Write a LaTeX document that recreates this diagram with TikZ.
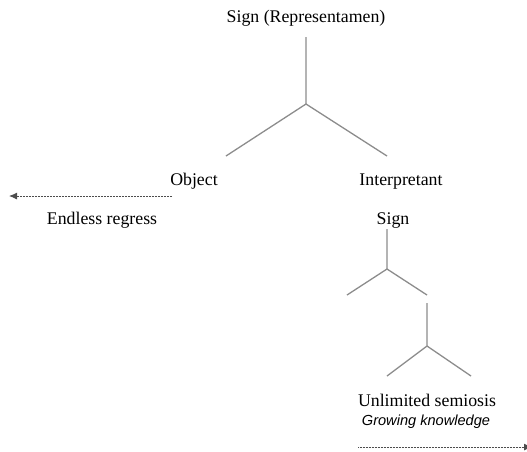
\documentclass[tikz,border=0pt]{standalone}
\usepackage{fontspec}
\setmainfont{Liberation Serif}
\newfontfamily\arialfont{Liberation Sans}
\usetikzlibrary{arrows.meta}
\begin{document}
\begin{tikzpicture}[x=1pt,y=-1pt,
  lbl/.style={font=\fontsize{17.8}{20}\selectfont, inner sep=0pt, anchor=base},
  itl/.style={font=\arialfont\itshape\fontsize{14.6}{17}\selectfont, inner sep=0pt, anchor=base},
  stem/.style={draw=black!45, line width=1.3pt},
  dots/.style={draw=black!70, line width=0.9pt, dash pattern=on 0.9pt off 0.6pt,
               -{Latex[length=8pt,width=7pt]}}]
\useasboundingbox (0,0) rectangle (527,451);
\clip (0,0) rectangle (527,451);
% labels
\node[lbl] (title)   at (306,22)  {Sign (Representamen)};
\node[lbl] (obj)     at (194,185) {Object};
\node[lbl] (interp)  at (401,185) {Interpretant};
\node[lbl] (regress) at (102,224) {Endless regress};
\node[lbl] (sign)    at (393,224) {Sign};
\node[lbl] (unlim)   at (427,406) {Unlimited semiosis};
\node[itl] (grow)    at (426,425) {Growing knowledge};
% top Y
\coordinate (y1t) at (306,37);
\coordinate (y1j) at (306,104);
\coordinate (y1l) at (226,156);
\coordinate (y1r) at (387,156);
\draw[stem] (y1t) -- (y1j) (y1l) -- (y1j) -- (y1r);
% small Y 1
\coordinate (y2t) at (387,229);
\coordinate (y2j) at (387,269);
\coordinate (y2l) at (347,295);
\coordinate (y2r) at (427,295);
\draw[stem] (y2t) -- (y2j) (y2l) -- (y2j) -- (y2r);
% small Y 2
\coordinate (y3t) at (427,303);
\coordinate (y3j) at (427,346);
\coordinate (y3l) at (387,376);
\coordinate (y3r) at (471,376);
\draw[stem] (y3t) -- (y3j) (y3l) -- (y3j) -- (y3r);
% arrows
\coordinate (a1s) at (172,196);
\coordinate (a1e) at (9,196);
\draw[dots] (a1s) -- (a1e);
\coordinate (a2s) at (358,447);
\coordinate (a2e) at (532,447);
\draw[dots] (a2s) -- (a2e);
\end{tikzpicture}
\end{document}
